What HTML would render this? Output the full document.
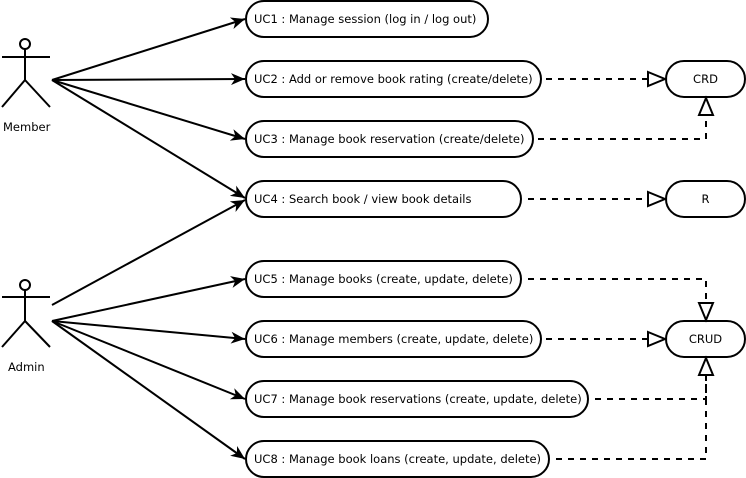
<!DOCTYPE html>
<html><head><meta charset="utf-8"><style>
html,body{margin:0;padding:0;background:#fff}
svg{display:block}
text{font-family:"DejaVu Sans","Liberation Sans",sans-serif;font-size:11.5px;fill:#000}
</style></head><body>
<svg width="746" height="478" viewBox="0 0 746 478" xmlns="http://www.w3.org/2000/svg">
<defs>
<marker id="a" markerWidth="15" markerHeight="12" refX="14" refY="6" orient="auto" markerUnits="userSpaceOnUse">
<path d="M0,0 L14,6 L0,12 L4,6 Z" fill="#000"/></marker>
</defs>
<g stroke="#000" stroke-width="2" fill="none">
<circle cx="25" cy="44" r="5"/>
<line x1="2" y1="57" x2="50" y2="57"/>
<line x1="25" y1="49" x2="25" y2="80"/>
<line x1="25" y1="80" x2="2" y2="107"/>
<line x1="25" y1="80" x2="50" y2="107"/>
<circle cx="25" cy="285" r="5"/>
<line x1="2" y1="297" x2="50" y2="297"/>
<line x1="25" y1="290" x2="25" y2="321"/>
<line x1="25" y1="321" x2="2" y2="347"/>
<line x1="25" y1="321" x2="50" y2="347"/>
<g marker-end="url(#a)">
<line x1="52" y1="80" x2="245" y2="19"/>
<line x1="52" y1="80" x2="245" y2="79"/>
<line x1="52" y1="80" x2="245" y2="139"/>
<line x1="52" y1="80" x2="245" y2="198"/>
<line x1="52" y1="305" x2="245" y2="200"/>
<line x1="52" y1="321" x2="245" y2="279"/>
<line x1="52" y1="321" x2="245" y2="339"/>
<line x1="52" y1="321" x2="245" y2="399"/>
<line x1="52" y1="321" x2="245" y2="459"/>
</g>
<rect x="246" y="1" width="242" height="36" rx="18"/>
<rect x="246" y="61" width="295" height="36" rx="18"/>
<rect x="246" y="121" width="287" height="36" rx="18"/>
<rect x="246" y="181" width="275" height="36" rx="18"/>
<rect x="246" y="261" width="275" height="36" rx="18"/>
<rect x="246" y="321" width="295" height="36" rx="18"/>
<rect x="246" y="381" width="342" height="36" rx="18"/>
<rect x="246" y="441" width="303" height="36" rx="18"/>
<rect x="666" y="61" width="79" height="36" rx="18"/>
<rect x="666" y="181" width="79" height="36" rx="18"/>
<rect x="666" y="321" width="79" height="36" rx="18"/>
<g stroke-dasharray="6,6">
<path d="M546,79 H648"/>
<path d="M538,139 H706 V115"/>
<path d="M528,199 H648"/>
<path d="M528,279 H706 V303"/>
<path d="M546,339 H648"/>
<path d="M595,399 H706 V375"/>
<path d="M556,459 H706 V375"/>
</g>
<g fill="#fff">
<path d="M648,72 L665,79 L648,86 Z"/>
<path d="M648,192 L665,199 L648,206 Z"/>
<path d="M648,332 L665,339 L648,346 Z"/>
<path d="M699,115 L706,98 L713,115 Z"/>
<path d="M699,303 L706,320 L713,303 Z"/>
<path d="M699,375 L706,358 L713,375 Z"/>
</g>
</g>
<text x="3" y="131">Member</text>
<text x="8" y="371">Admin</text>
<g>
<text x="254" y="23">UC1 : Manage session (log in / log out)</text>
<text x="254" y="83">UC2 : Add or remove book rating (create/delete)</text>
<text x="254" y="143">UC3 : Manage book reservation (create/delete)</text>
<text x="254" y="203">UC4 : Search book / view book details</text>
<text x="254" y="283">UC5 : Manage books (create, update, delete)</text>
<text x="254" y="343">UC6 : Manage members (create, update, delete)</text>
<text x="254" y="403">UC7 : Manage book reservations (create, update, delete)</text>
<text x="254" y="463">UC8 : Manage book loans (create, update, delete)</text>
</g>
<text x="705.5" y="83" text-anchor="middle">CRD</text>
<text x="705.5" y="203" text-anchor="middle">R</text>
<text x="705.5" y="343" text-anchor="middle">CRUD</text>
</svg>
</body></html>
